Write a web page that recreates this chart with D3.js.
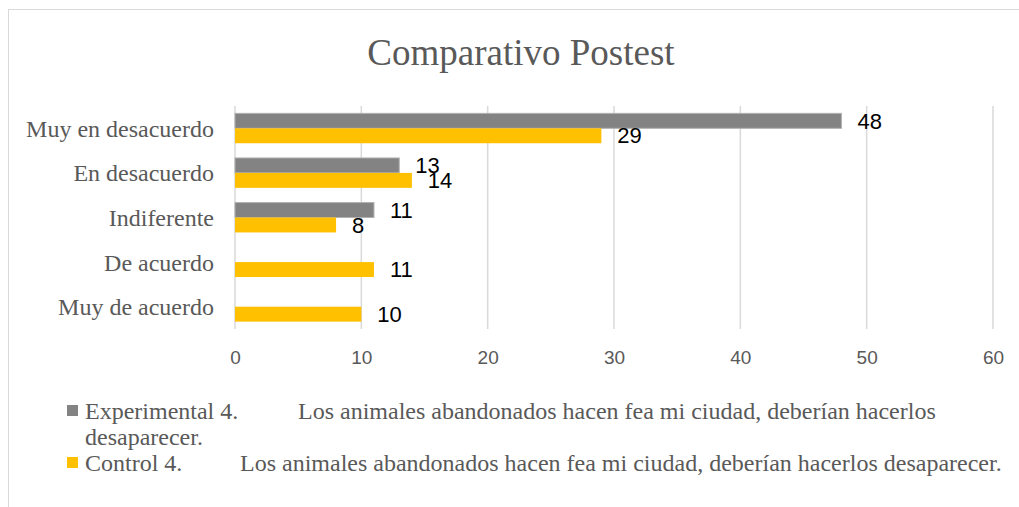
<!DOCTYPE html>
<html>
<head>
  <meta charset="UTF-8">
  <style>
    body { margin: 0; background: white; }
    svg { display: block; }
    .cat { font-family: "Liberation Serif", "Times New Roman", serif; font-size: 24px; fill: #595959; }
    .tick text { font-family: "Liberation Sans", Arial, sans-serif; font-size: 19px; fill: #595959; }
    .val { font-family: "Liberation Sans", Arial, sans-serif; font-size: 22px; fill: #000; }
    .leg { font-family: "Liberation Serif", "Times New Roman", serif; font-size: 24px; fill: #595959; }
  </style>
</head>
<body>
<svg></svg>
<script src="https://d3js.org/d3.v7.min.js"></script>
<script>
let width = 1019, height = 507;

// Data
let categories = ["Muy en desacuerdo", "En desacuerdo", "Indiferente", "De acuerdo", "Muy de acuerdo"];
let seriesNames = ["Experimental", "Control"];
let experimental = [48, 13, 11, null, null];
let control = [29, 14, 8, 11, 10];
let xTicks = [0, 10, 20, 30, 40, 50, 60];
let legendLabels = [
  ["Experimental 4.", "Los animales abandonados hacen fea mi ciudad, deberían hacerlos", "desaparecer."],
  ["Control 4.", "Los animales abandonados hacen fea mi ciudad, deberían hacerlos desaparecer."]
];
let colors = ["#838383", "#FFC000"];

let svg = d3.select("svg").attr("width", width).attr("height", height);

// chart border (cropped at right/bottom like the picture)
svg.append("rect")
  .attr("x", 8.5).attr("y", 9.5)
  .attr("width", 1040).attr("height", 520)
  .attr("fill", "white").attr("stroke", "#d9d9d9");

// Title
svg.append("text")
  .attr("x", 521).attr("y", 65)
  .attr("text-anchor", "middle")
  .style("font-family", "'Liberation Serif', 'Times New Roman', serif")
  .style("font-size", "37px")
  .style("fill", "#595959")
  .text("Comparativo Postest");

let x = d3.scaleLinear().domain([0, 60]).range([235, 993]);
let y = d3.scaleBand().domain(categories).range([106, 329])
  .paddingInner(0.33).paddingOuter(0.165);
let ySub = d3.scaleBand().domain(seriesNames).range([0, y.bandwidth()]);

// gridlines
svg.append("g").selectAll("line")
  .data(xTicks)
  .enter().append("line")
  .attr("x1", d => x(d)).attr("x2", d => x(d))
  .attr("y1", 106).attr("y2", 329)
  .attr("stroke", "#d9d9d9").attr("stroke-width", 1.5);

// x axis labels
let xAxis = svg.append("g")
  .attr("transform", "translate(0,350)")
  .call(d3.axisBottom(x).tickValues(xTicks).tickSize(0).tickPadding(0));
xAxis.select(".domain").remove();
xAxis.selectAll("text").attr("dy", "0.71em");

// category labels
svg.append("g").selectAll("text")
  .data(categories)
  .enter().append("text")
  .attr("class", "cat")
  .attr("x", 214)
  .attr("y", d => y(d) + y.bandwidth() / 2)
  .attr("dy", "0.35em")
  .attr("text-anchor", "end")
  .text(d => d);

// bars
let series = [experimental, control];
series.forEach((vals, si) => {
  let rows = categories.map((c, i) => ({ cat: c, v: vals[i] })).filter(d => d.v != null);
  let g = svg.append("g");
  g.selectAll("rect")
    .data(rows)
    .enter().append("rect")
    .attr("x", x(0))
    .attr("y", d => y(d.cat) + ySub(seriesNames[si]))
    .attr("width", d => x(d.v) - x(0))
    .attr("height", ySub.bandwidth())
    .attr("fill", colors[si])
    .attr("stroke", si == 0 ? "#b0b0b0" : "none")
    .attr("stroke-width", 1);
  g.selectAll("text")
    .data(rows)
    .enter().append("text")
    .attr("class", "val")
    .attr("x", d => x(d.v) + 16)
    .attr("y", d => y(d.cat) + ySub(seriesNames[si]) + ySub.bandwidth() / 2)
    .attr("dy", "0.35em")
    .text(d => d.v);
});

// legend
let legend = svg.append("g");
let legY = [411, 463];
legendLabels.forEach((lab, i) => {
  legend.append("rect")
    .attr("x", 67).attr("y", legY[i] - 6)
    .attr("width", 11).attr("height", 11)
    .attr("fill", colors[i]);
  let t = legend.append("text").attr("class", "leg").attr("y", legY[i]).attr("dy", "0.35em");
  t.append("tspan").attr("x", 85).text(lab[0]);
  t.append("tspan").attr("x", i == 0 ? 298 : 240).text(lab[1]);
  if (lab[2]) {
    legend.append("text").attr("class", "leg")
      .attr("x", 85).attr("y", legY[i] + 26).attr("dy", "0.35em")
      .text(lab[2]);
  }
});
</script>
</body>
</html>
